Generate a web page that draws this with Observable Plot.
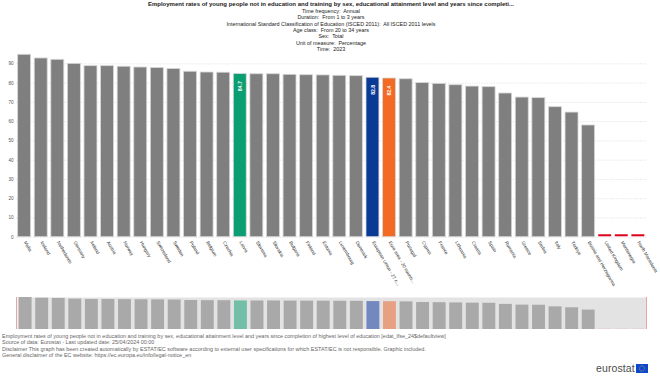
<!DOCTYPE html>
<html>
<head>
<meta charset="utf-8">
<script src="https://cdn.jsdelivr.net/npm/d3@7"></script>
<script src="https://cdn.jsdelivr.net/npm/@observablehq/plot@0.6"></script>
<style>
  html, body { margin: 0; padding: 0; background: #fff; }
  body { width: 660px; height: 380px; overflow: hidden; position: relative;
         font-family: "Liberation Sans Narrow", "Liberation Sans", Arial, sans-serif; }
  .abs { position: absolute; }
  #head { left: 0; top: 0; width: 662px; text-align: center; color: #222; }
  #head div { height: 6.35px; line-height: 6.35px; font-size: 5.4px; white-space: pre; color: #222; }
  #head .t { font-weight: bold; font-size: 6px; height: 7px; line-height: 7px; margin-top: 1px; }
  #main { left: 0; top: 0; }
  #nav { left: 15.5px; top: 296.5px; width: 631px; height: 32.5px;
         border-left: 1px solid #e8a3ab; border-right: 1px solid #e8a3ab; box-sizing: border-box; }
  #nav svg, #main svg { display: block; }
  #foot { left: 2px; top: 333px; color: #666; font-size: 5.45px; line-height: 6.3px; white-space: nowrap; }
  #logo { left: 596px; top: 362px; font-size: 10.5px; color: #4b4b4b; letter-spacing: 0.1px;
          font-family: "Liberation Sans", Arial, sans-serif; display: flex; align-items: center; }
</style>
</head>
<body>
<div id="head" class="abs"></div>
<div id="main" class="abs"></div>
<div id="nav" class="abs"></div>
<div id="foot" class="abs"></div>
<div id="logo" class="abs"><span>eurostat</span>
  <svg width="12" height="9" style="margin-left:1px"><rect width="12" height="9" fill="#0e47cb"/><circle cx="6" cy="4.5" r="2.6" fill="none" stroke="#ffd617" stroke-width="0.7" stroke-dasharray="0.6,0.75"/></svg>
</div>
<script>
const categories = ["Malta","Iceland","Netherlands","Germany","Ireland","Austria","Norway","Hungary","Switzerland","Sweden","Poland","Belgium","Czechia","Latvia","Slovenia","Slovakia","Bulgaria","Finland","Estonia","Luxembourg","Denmark","European Union - 27 c...","Euro area - 20 countr...","Portugal","Cyprus","France","Lithuania","Croatia","Spain","Romania","Greece","Serbia","Italy","Türkiye","Bosnia and Herzegovina","United Kingdom","Montenegro","North Macedonia"];
const values = [94.7,92.8,92.1,90.0,88.8,88.8,88.5,88.1,87.8,87.3,85.9,85.5,85.4,84.7,84.6,84.6,84.3,84.1,84.0,83.8,83.6,82.8,82.4,82.0,80.0,79.6,78.9,78.2,77.9,74.6,72.5,72.2,67.5,64.7,58.0,null,null,null];
const highlight = {"Latvia": "latvia", "European Union - 27 c...": "eu", "Euro area - 20 countr...": "ea"};
const yTicks = [0,10,20,30,40,50,60,70,80,90];
const titleLines = ["Employment rates of young people not in education and training by sex, educational attainment level and years since completi...",
  "Time frequency:  Annual","Duration:  From 1 to 3 years","International Standard Classification of Education (ISCED 2011):  All ISCED 2011 levels",
  "Age class:  From 20 to 34 years","Sex:  Total","Unit of measure:  Percentage","Time:  2023"];
const footLines = ["Employment rates of young people not in education and training by sex, educational attainment level and years since completion of highest level of education [edat_lfse_24$defaultview]",
  "Source of data: Eurostat - Last updated date: 25/04/2024 00:00",
  "Disclaimer This graph has been created automatically by ESTAT/EC software according to external user specifications for which ESTAT/EC is not responsible. Graphic included.",
  "General disclaimer of the EC website: https://ec.europa.eu/info/legal-notice_en"];

const mainColors = {none: "#7f7f7f", latvia: "#0a9e72", eu: "#0b3a96", ea: "#f26a23"};
const navColors = {none: "#a9a9a9", latvia: "#73bea6", eu: "#7288bf", ea: "#e5a182"};

const rows = categories.map((c, i) => ({name: c, value: values[i], kind: highlight[c] || "none"}));
const present = rows.filter(d => d.value != null);
const missing = rows.filter(d => d.value == null);
const labelled = present.filter(d => d.kind !== "none");

document.getElementById("head").innerHTML = titleLines.map((t, i) => `<div class="${i === 0 ? "t" : ""}">${t}</div>`).join("");
document.getElementById("foot").innerHTML = footLines.map(t => `<div>${t}</div>`).join("");

const font = '"Liberation Sans Narrow", "Liberation Sans", Arial, sans-serif';
const main = Plot.plot({
  width: 660, height: 300,
  marginLeft: 16, marginRight: 14, marginTop: 44.1, marginBottom: 63.3,
  style: {fontFamily: font, background: "transparent", overflow: "visible"},
  x: {domain: categories, range: [16, 646], round: false, paddingInner: 0.22, paddingOuter: 0.1, align: 0.5, axis: null},
  y: {domain: [0, 100], range: [236.7, 44.1], axis: null},
  marks: [
    Plot.gridY(yTicks, {stroke: "#d4d4d4", strokeOpacity: 1, strokeWidth: 0.6, strokeDasharray: "1.2,1.2"}),
    Plot.axisY(yTicks, {tickSize: 0, tickPadding: 3, fontSize: 4.6, fill: "#555", label: null}),
    Plot.barY(present, {x: "name", y: "value", fill: d => mainColors[d.kind], stroke: "#d6d6d6", strokeWidth: 0.8}),
    Plot.tickY(missing, {x: "name", y: () => 1, stroke: "#e0001a", strokeWidth: 2}),
    Plot.text(labelled, {x: "name", y: "value", text: d => d.value.toFixed(1), rotate: -90, textAnchor: "end", dy: 7, fill: "white", fontWeight: "bold", fontSize: 5.2}),
    Plot.text(rows, {x: "name", frameAnchor: "bottom", text: "name", rotate: 60, textAnchor: "start", dy: 5, dx: -1, fontSize: 4.7, fill: "#333", fontWeight: d => d.kind === "none" ? "normal" : "bold"})
  ]
});
document.getElementById("main").appendChild(main);

const nav = Plot.plot({
  width: 629, height: 32.5,
  marginLeft: 0, marginRight: 0, marginTop: 0, marginBottom: 0,
  style: {fontFamily: font, background: "transparent"},
  x: {domain: categories, range: [0, 629], round: false, paddingInner: 0.22, paddingOuter: 0.1, align: 0.5, axis: null},
  y: {domain: [0, d3.max(values)], range: [32.5, 0], axis: null},
  marks: [
    Plot.frame({fill: "#e3e3e3", stroke: null}),
    Plot.barY(present, {x: "name", y: "value", fill: d => navColors[d.kind]}),
    Plot.tickY(missing, {x: "name", y: () => 0, dy: -0.6, stroke: "#eba3ac", strokeWidth: 1.2})
  ]
});
document.getElementById("nav").appendChild(nav);
</script>
</body>
</html>
